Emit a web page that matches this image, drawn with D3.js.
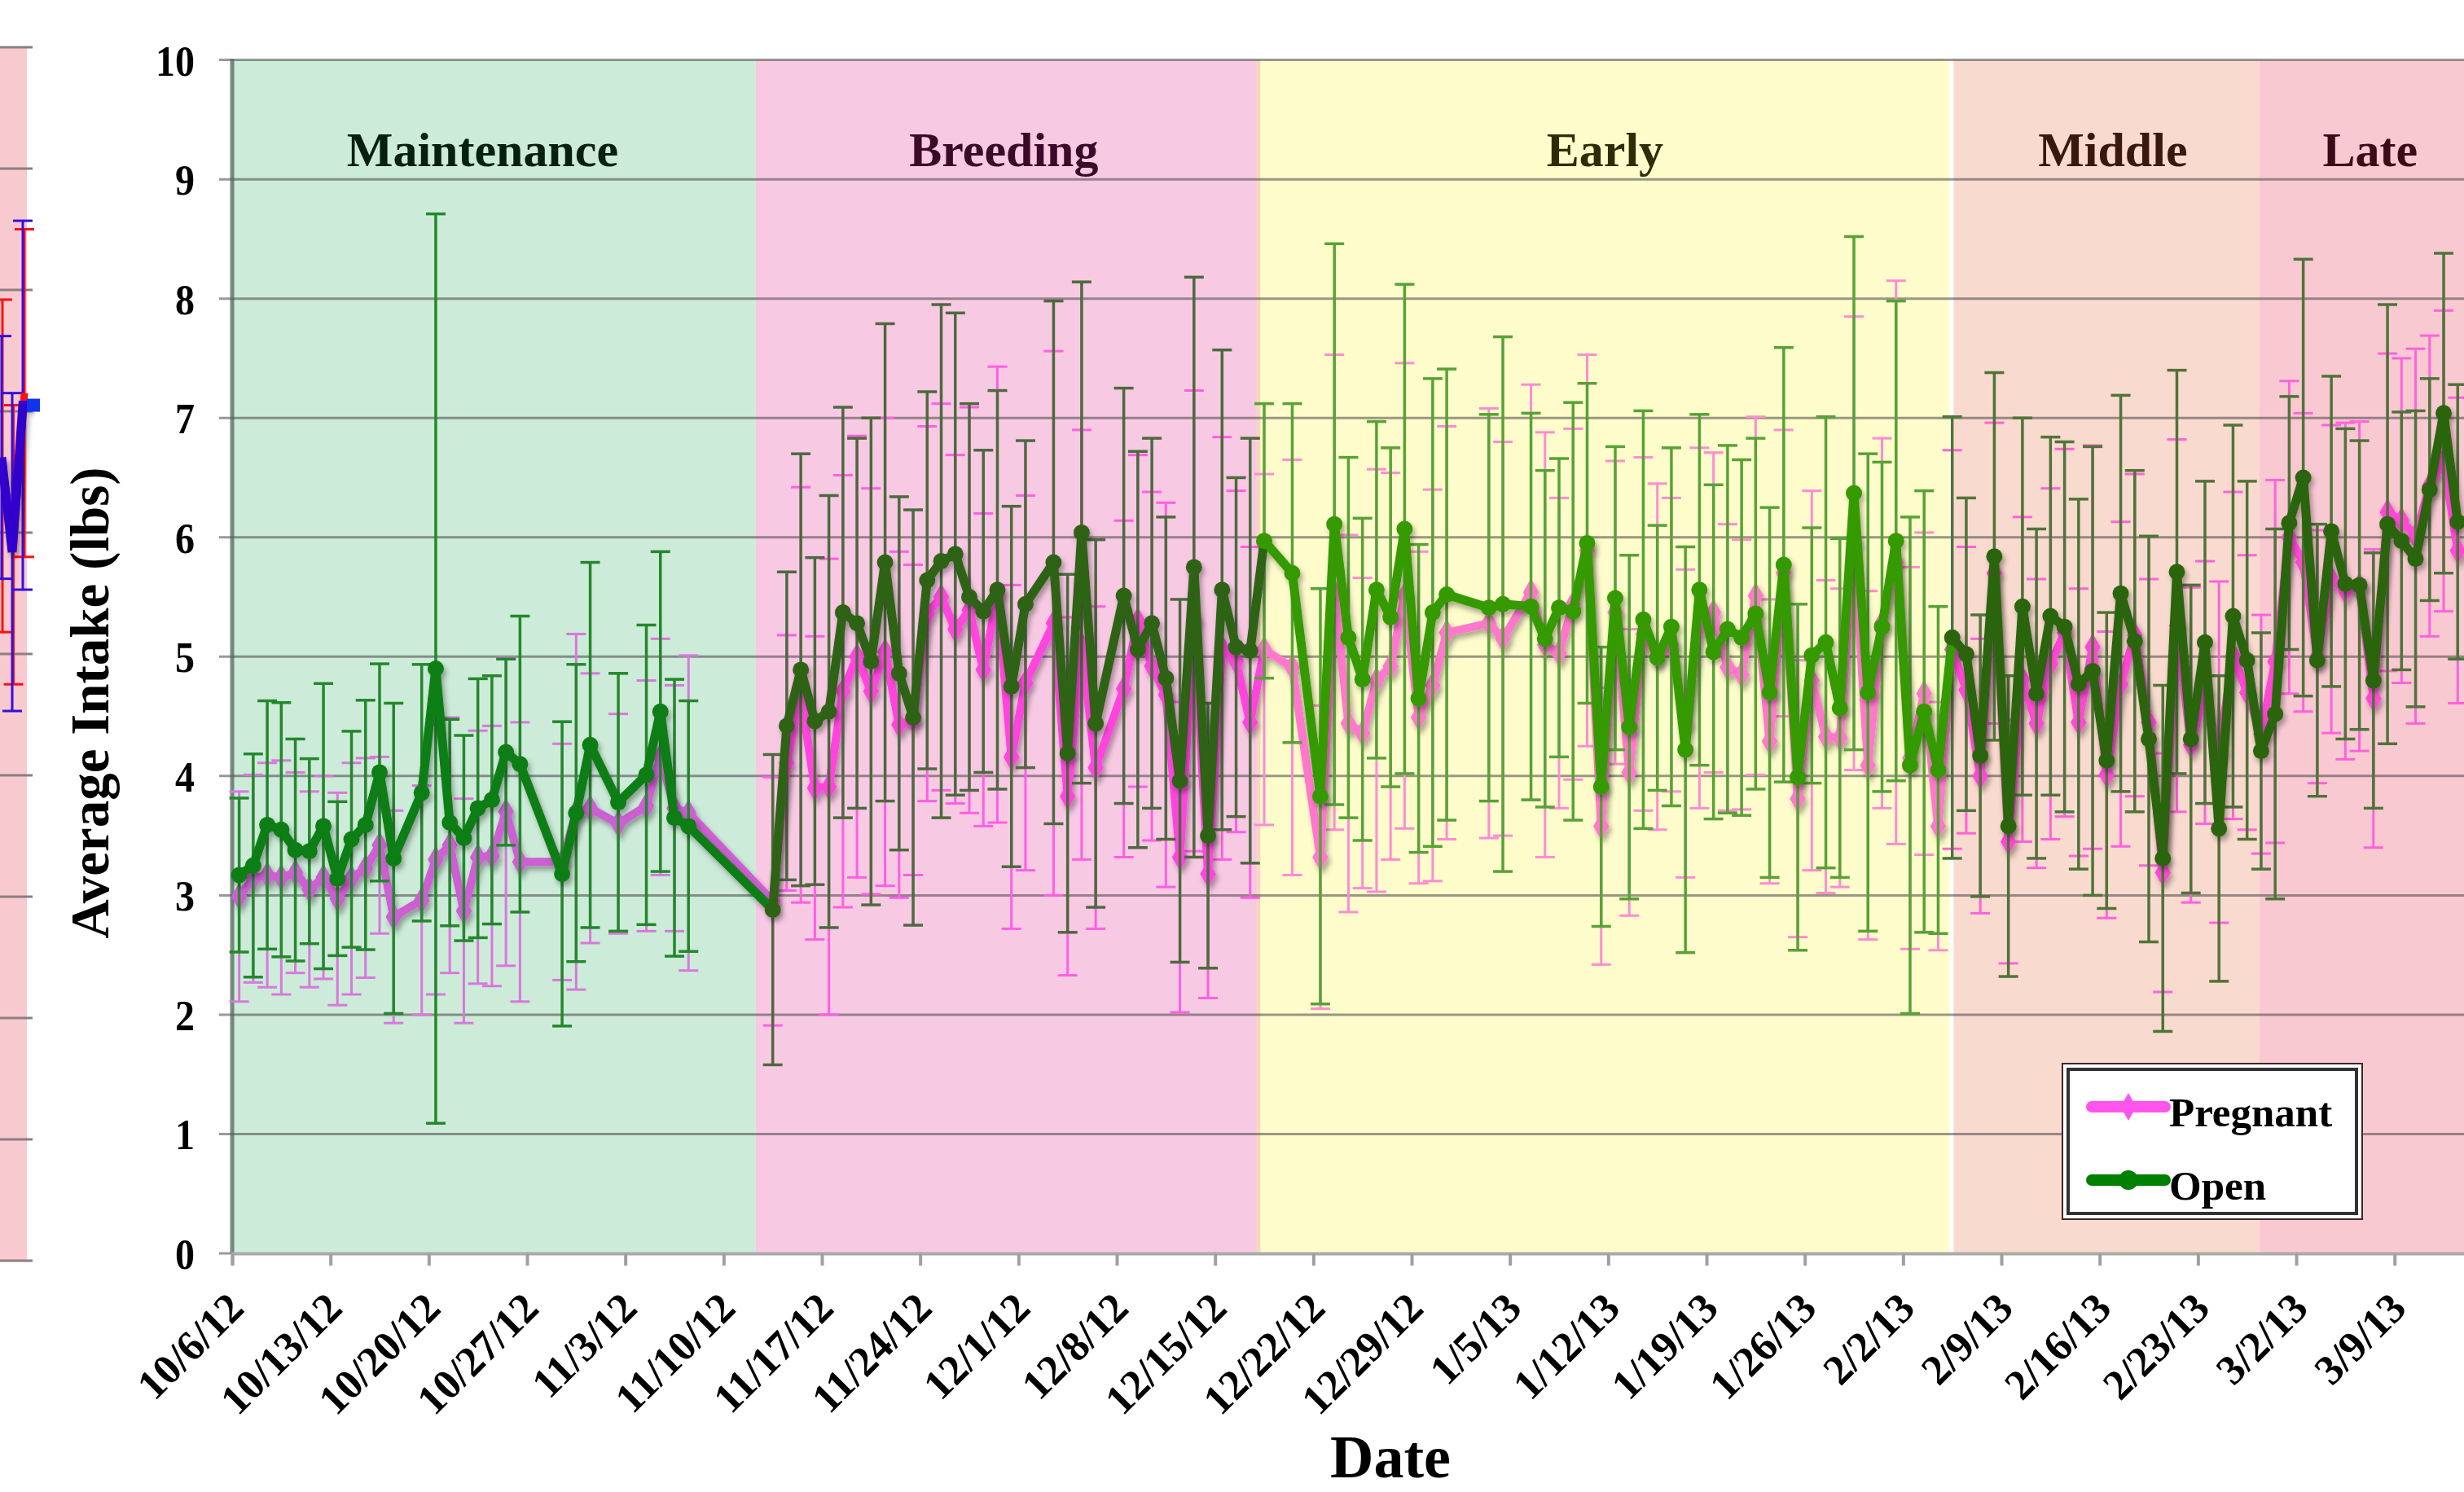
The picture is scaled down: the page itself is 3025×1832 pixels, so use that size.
<!DOCTYPE html>
<html><head><meta charset="utf-8">
<script src="https://cdn.jsdelivr.net/npm/d3@7"></script>
<style>
body{margin:0;background:#fff;}
svg{display:block;}
text{font-family:"Liberation Serif","Times New Roman",serif;font-weight:bold;}
</style>
</head><body>
<svg id="c" width="3025" height="1832"></svg>
<script>
// ---------------- DATA ----------------
const dates = [
 "10/6/12","10/7/12","10/8/12","10/9/12","10/10/12","10/11/12","10/12/12","10/13/12","10/14/12","10/15/12","10/16/12","10/17/12","10/19/12","10/20/12","10/21/12","10/22/12","10/23/12","10/24/12","10/25/12","10/26/12","10/29/12","10/30/12","10/31/12","11/2/12","11/4/12","11/5/12","11/6/12","11/7/12",
 "11/13/12","11/14/12","11/15/12","11/16/12","11/17/12","11/18/12","11/19/12","11/20/12","11/21/12","11/22/12","11/23/12","11/24/12","11/25/12","11/26/12","11/27/12","11/28/12","11/29/12","11/30/12","12/1/12","12/3/12","12/4/12","12/5/12","12/6/12","12/8/12","12/9/12","12/10/12","12/11/12","12/12/12","12/13/12","12/14/12","12/15/12","12/16/12","12/17/12",
 "12/18/12","12/20/12","12/22/12","12/23/12","12/24/12","12/25/12","12/26/12","12/27/12","12/28/12","12/29/12","12/30/12","12/31/12","1/3/13","1/4/13","1/6/13","1/7/13","1/8/13","1/9/13","1/10/13","1/11/13","1/12/13","1/13/13","1/14/13","1/15/13","1/16/13","1/17/13","1/18/13","1/19/13","1/20/13","1/21/13","1/22/13","1/23/13","1/24/13","1/25/13","1/26/13","1/27/13","1/28/13","1/29/13","1/30/13","1/31/13","2/1/13","2/2/13","2/3/13","2/4/13",
 "2/5/13","2/6/13","2/7/13","2/8/13","2/9/13","2/10/13","2/11/13","2/12/13","2/13/13","2/14/13","2/15/13","2/16/13","2/17/13","2/18/13","2/19/13","2/20/13","2/21/13","2/22/13","2/23/13","2/24/13","2/25/13","2/26/13","2/27/13",
 "2/28/13","3/1/13","3/2/13","3/3/13","3/4/13","3/5/13","3/6/13","3/7/13","3/8/13","3/9/13","3/10/13","3/11/13","3/12/13","3/13/13"
];
const openMean = [
 3.17,3.25,3.59,3.55,3.38,3.37,3.58,3.14,3.47,3.59,4.03,3.31,3.86,4.90,3.61,3.48,3.73,3.80,4.20,4.10,3.18,3.69,4.26,3.78,4.01,4.54,3.65,3.58,
 2.88,4.42,4.89,4.46,4.54,5.37,5.28,4.96,5.79,4.86,4.49,5.64,5.80,5.86,5.50,5.38,5.56,4.75,5.44,5.79,4.19,6.04,4.44,5.51,5.06,5.28,4.82,3.96,5.75,3.50,5.56,5.08,5.05,
 5.97,5.70,3.83,6.11,5.16,4.81,5.56,5.33,6.07,4.65,5.37,5.52,5.41,5.44,5.42,5.15,5.41,5.38,5.95,3.91,5.49,4.41,5.31,4.99,5.25,4.22,5.56,5.04,5.23,5.16,5.36,4.70,5.77,3.99,5.01,5.12,4.57,6.37,4.70,5.25,5.97,4.09,4.54,4.05,
 5.16,5.02,4.17,5.84,3.58,5.42,4.69,5.34,5.25,4.77,4.88,4.13,5.53,5.13,4.31,3.31,5.71,4.31,5.12,3.56,5.34,4.97,4.21,
 4.52,6.12,6.50,4.97,6.05,5.61,5.60,4.80,6.11,5.97,5.82,6.40,7.04,6.13
];
const openSD = [
 .645,.935,1.04,1.065,.93,.775,1.195,.645,.905,1.045,.91,1.30,1.075,3.81,.865,.86,1.085,1.04,.78,1.24,1.275,1.245,1.53,1.08,1.255,1.34,1.16,1.05,
 1.30,1.29,1.81,1.37,1.81,1.72,1.55,2.04,2.0,1.48,1.74,1.58,2.15,2.02,1.62,1.35,1.67,1.51,1.37,2.19,1.50,2.10,1.54,1.74,1.66,1.55,1.35,1.52,2.43,1.11,2.01,1.42,1.78,
 1.15,1.42,1.74,2.35,1.51,1.35,1.41,1.42,2.05,1.29,1.96,1.89,1.62,2.24,1.62,1.41,1.25,1.75,1.34,1.17,1.27,1.44,1.75,1.11,1.50,1.70,1.47,1.40,1.54,1.49,1.47,1.55,1.82,1.45,1.07,1.89,1.42,2.15,2.0,1.38,2.01,2.08,1.85,1.37,
 1.85,1.31,1.18,1.54,1.26,1.58,1.38,1.50,1.55,1.55,1.88,1.24,1.66,1.43,1.70,1.45,1.69,1.29,1.35,1.28,1.60,1.50,0.99,
 1.55,1.06,1.83,1.14,1.30,1.30,1.21,1.07,1.84,1.08,1.24,0.93,1.34,1.15
];
const pregnantMean = [
 2.99,3.14,3.17,3.15,3.19,3.05,3.15,2.97,3.14,3.23,3.42,2.82,2.96,3.30,3.42,2.87,3.32,3.33,3.70,3.28,3.28,3.70,3.73,3.60,3.75,4.16,3.73,3.69,
 2.95,4.11,4.68,3.90,3.91,4.71,5.00,4.71,5.04,4.43,4.47,5.36,5.50,5.23,5.39,4.89,5.52,4.16,4.78,5.28,3.83,5.10,4.07,4.73,5.30,4.92,4.68,3.32,5.30,3.18,5.07,4.96,4.45,
 5.06,4.91,3.32,5.54,4.44,4.36,4.80,4.92,5.51,4.49,4.76,5.20,5.28,5.15,5.54,5.10,5.03,5.44,5.89,3.58,5.37,4.03,5.19,5.00,5.10,4.44,5.24,5.37,4.91,4.85,5.51,4.29,5.70,3.81,4.80,4.33,4.32,5.95,4.09,5.28,5.79,4.15,4.69,3.58,
 5.06,4.72,4.00,5.70,3.45,4.81,4.44,4.94,5.20,4.45,5.08,4.01,4.77,5.18,4.45,3.19,5.26,4.26,4.70,4.20,5.01,4.70,4.35,
 4.96,6.00,5.79,5.00,5.65,5.55,5.59,4.65,6.21,6.14,6.01,6.43,6.64,5.89
];
const pregnantSD = [
 .88,.87,.94,.98,.84,.82,.85,.89,.97,.92,.74,.89,.96,1.13,1.07,.94,1.06,1.09,1.29,1.17,.99,1.49,1.13,.92,1.05,.99,1.03,1.32,
 1.04,1.07,1.74,1.27,1.91,1.81,1.85,1.70,1.96,1.45,1.30,1.57,1.62,1.46,1.70,1.31,1.91,1.44,1.57,2.28,1.50,1.80,1.35,1.41,1.39,1.46,1.61,1.30,1.93,1.04,1.77,1.43,1.47,
 1.47,1.74,1.27,1.99,1.58,1.30,1.77,1.62,1.95,1.39,1.64,1.73,1.80,1.65,1.74,1.78,1.30,1.47,1.64,1.16,1.27,1.20,1.48,1.45,1.23,1.29,1.51,1.34,1.20,1.13,1.50,1.19,1.20,1.16,1.59,1.31,1.25,1.90,1.46,1.55,2.36,1.60,1.35,1.04,
 1.67,1.20,1.15,1.26,1.02,1.36,1.21,1.47,1.54,1.12,1.69,1.20,1.36,1.35,1.20,1.00,1.56,1.32,1.10,1.43,1.37,1.15,1.00,
 1.52,1.31,1.25,1.06,1.29,1.41,1.38,1.25,1.33,1.36,1.57,1.26,1.26,1.28
];
const phaseNames = ["Maintenance","Breeding","Early","Middle","Late"];
const phaseStarts = ["2012-10-06T00:00Z","2012-11-12T07:00Z","2012-12-18T02:00Z","2013-02-05T11:00Z","2013-02-27T09:00Z"];
const axisEnd = "2013-03-15T04:00Z";
const tickLabels = ["10/6/12","10/13/12","10/20/12","10/27/12","11/3/12","11/10/12","11/17/12","11/24/12","12/1/12","12/8/12","12/15/12","12/22/12","12/29/12","1/5/13","1/12/13","1/19/13","1/26/13","2/2/13","2/9/13","2/16/13","2/23/13","3/2/13","3/9/13"];
const yTicks = [0,1,2,3,4,5,6,7,8,9,10];
const seriesNames = ["Pregnant","Open"];
// partial neighbouring chart at the left edge
const leftBlue = [6.62, 5.84, 7.05, 7.05];
const leftBlueSD = [1.0, 1.31, 1.52, 0];
const leftRed = [6.55, 5.9, 7.15];
const leftRedSD = [1.37, 1.15, 1.35];

// ---------------- STYLE ----------------
const phaseBg = ["#CDEBD9","#F8C9E3","#FEFCCB","#F9DACE","#F9C9D2"];
const phaseTxt = ["#06200E","#3A0A28","#2E2C06","#38190C","#3A0C18"];
const phaseLabelShift = [-14, -4, 0, 9, 0];
const openLine = ["#0A7E12","#2E6418","#349A04","#2C650F","#2C650F"];
const openErr  = ["#23882C","#4C6A3E","#58A236","#4F7438","#4F7438"];
const pregLine = ["#CC5FD2","#FF45DD","#FF78CC","#FF48D6","#FF48D6"];
const pregErr  = ["#D878DC","#FF5FE2","#FF8CD2","#FF62DA","#FF62DA"];

// ---------------- CHART ----------------
const svg = d3.select("#c");
const parse = d3.utcParse("%m/%d/%y");
const plotTop = 73.6, plotBottom = 1539, plotLeft = 285, plotRight = 3046;
const x = d3.scaleUtc().domain([parse("10/6/12"), new Date(axisEnd)]).range([plotLeft, plotRight]);
const y = d3.scaleLinear().domain([0, 10]).range([plotBottom, plotTop]);
const ticksD = tickLabels.map(parse);
const pStart = phaseStarts.map(s => new Date(s));
const pEnd = pStart.slice(1).concat([new Date(axisEnd)]);

const defs = svg.append("defs");
const f = defs.append("filter").attr("id","sh").attr("x","-5%").attr("y","-5%").attr("width","110%").attr("height","110%");
f.append("feDropShadow").attr("dx",3).attr("dy",5).attr("stdDeviation",3).attr("flood-color","#000").attr("flood-opacity",0.33);

// left partial chart
const yl = d3.scaleLinear().domain([0,10]).range([1548, 58]);
svg.append("rect").attr("x",0).attr("y",yl(10)).attr("width",33).attr("height",yl(0)-yl(10)).attr("fill","#F9C9D0");
svg.append("g").selectAll("line").data(yTicks).join("line")
  .attr("x1",0).attr("x2",40).attr("y1",d=>yl(d)).attr("y2",d=>yl(d))
  .attr("stroke","#8a8080").attr("stroke-width",3);
const xlB = d3.scaleLinear().domain([0,3]).range([2,41]);
const xlR = d3.scaleLinear().domain([0,2]).range([3,30]);
const gl = svg.append("g");
leftRed.forEach((v,i)=>{
  const cx = xlR(i);
  gl.append("line").attr("x1",cx).attr("x2",cx).attr("y1",yl(v+leftRedSD[i])).attr("y2",yl(v-leftRedSD[i])).attr("stroke","#FF1010").attr("stroke-width",3);
  [v+leftRedSD[i], v-leftRedSD[i]].forEach(e=>gl.append("line").attr("x1",cx-12).attr("x2",cx+12).attr("y1",yl(e)).attr("y2",yl(e)).attr("stroke","#FF1010").attr("stroke-width",3));
});
leftBlue.forEach((v,i)=>{
  if(!leftBlueSD[i]) return;
  const cx = xlB(i);
  gl.append("line").attr("x1",cx).attr("x2",cx).attr("y1",yl(v+leftBlueSD[i])).attr("y2",yl(v-leftBlueSD[i])).attr("stroke","#3311DD").attr("stroke-width",3);
  [v+leftBlueSD[i], v-leftBlueSD[i]].forEach(e=>gl.append("line").attr("x1",cx-12).attr("x2",cx+12).attr("y1",yl(e)).attr("y2",yl(e)).attr("stroke","#3311DD").attr("stroke-width",3));
});
gl.append("path").datum(leftRed).attr("fill","none").attr("stroke","#FF1010").attr("stroke-width",9)
  .attr("d", d3.line().x((d,i)=>xlR(i)).y(d=>yl(d)));
gl.append("path").datum(leftBlue).attr("fill","none").attr("stroke","#3300CC").attr("stroke-width",11).attr("filter","url(#sh)")
  .attr("d", d3.line().x((d,i)=>xlB(i)).y(d=>yl(d)));
gl.append("rect").attr("x",xlB(3)-8).attr("y",yl(leftBlue[3])-8).attr("width",16).attr("height",16).attr("fill","#1133EE");

// phase backgrounds
svg.append("g").selectAll("rect").data(phaseNames).join("rect")
  .attr("x",(d,i)=>x(pStart[i])).attr("y",plotTop)
  .attr("width",(d,i)=>x(pEnd[i])-x(pStart[i])).attr("height",plotBottom-plotTop)
  .attr("fill",(d,i)=>phaseBg[i]);
// boundary accents
svg.append("line").attr("x1",x(pStart[2])).attr("x2",x(pStart[2])).attr("y1",plotTop).attr("y2",plotBottom).attr("stroke","#F9D6C2").attr("stroke-width",5);
svg.append("line").attr("x1",x(pStart[3])).attr("x2",x(pStart[3])).attr("y1",plotTop).attr("y2",plotBottom).attr("stroke","#FFFFFF").attr("stroke-width",5);

// gridlines + y ticks
svg.append("g").selectAll("line").data(yTicks.filter(d=>d>0)).join("line")
  .attr("x1",plotLeft-16).attr("x2",3025).attr("y1",d=>y(d)).attr("y2",d=>y(d))
  .attr("stroke","rgba(70,70,70,0.55)").attr("stroke-width",3);
svg.append("line").attr("x1",plotLeft-16).attr("x2",plotLeft).attr("y1",y(0)).attr("y2",y(0)).attr("stroke","#9a9a9a").attr("stroke-width",3);
// left border
svg.append("line").attr("x1",plotLeft).attr("x2",plotLeft).attr("y1",plotTop-1).attr("y2",plotBottom)
  .attr("stroke","rgba(80,100,90,0.75)").attr("stroke-width",5);
// x axis
const xa = d3.axisBottom(x).tickValues(ticksD).tickSize(15).tickFormat("");
const gx = svg.append("g").attr("transform",`translate(0,${plotBottom})`).call(xa);
gx.select(".domain").attr("stroke","#aaaaaa").attr("stroke-width",4);
gx.selectAll(".tick line").attr("stroke","#a0a0a0").attr("stroke-width",4);
svg.append("g").selectAll("text").data(tickLabels).join("text")
  .attr("transform",(d,i)=>`translate(${x(ticksD[i])+17},${plotBottom+70}) rotate(-45)`)
  .attr("text-anchor","end").attr("font-size",52).attr("fill","#000").text(d=>d);

// y tick labels
svg.append("g").selectAll("text").data(yTicks).join("text")
  .attr("transform",d=>`translate(239,${y(d)+19}) scale(1,1.12)`).attr("text-anchor","end")
  .attr("font-size",48).attr("fill","#000").text(d=>d);
// axis titles
svg.append("text").attr("transform","translate(133,863) rotate(-90)").attr("text-anchor","middle")
  .attr("font-size",67).attr("fill","#000").text("Average Intake (lbs)");
svg.append("text").attr("x",1707).attr("y",1814).attr("text-anchor","middle").attr("font-size",74).attr("fill","#000").text("Date");

// phase labels
svg.append("g").selectAll("text").data(phaseNames).join("text")
  .attr("x",(d,i)=>(x(pStart[i])+x(pEnd[i]))/2 + phaseLabelShift[i]).attr("y",204).attr("text-anchor","middle")
  .attr("font-size",60).attr("fill",(d,i)=>phaseTxt[i]).text(d=>d);

// ---------------- SERIES ----------------
const pts = dates.map((d,i)=>{
  const t = d3.utcHour.offset(parse(d),12);
  let ph = 0; pStart.forEach((s,k)=>{ if (t>=s) ph=k; });
  return {t, ph, open:openMean[i], openSD:openSD[i], preg:pregnantMean[i], pregSD:pregnantSD[i]};
});
function drawErr(key, sdKey, colors, w){
  const g = svg.append("g");
  pts.forEach(p=>{
    const cx = x(p.t), hi = y(p[key]+p[sdKey]), lo = y(p[key]-p[sdKey]);
    g.append("line").attr("x1",cx).attr("x2",cx).attr("y1",hi).attr("y2",lo).attr("stroke",colors[p.ph]).attr("stroke-width",w);
    [hi,lo].forEach(yy=>g.append("line").attr("x1",cx-12).attr("x2",cx+12).attr("y1",yy).attr("y2",yy).attr("stroke",colors[p.ph]).attr("stroke-width",w));
  });
}
function drawLine(key, colors, w){
  const g = svg.append("g").attr("filter","url(#sh)");
  const line = d3.line().x(p=>x(p.t)).y(p=>y(p[key]));
  for (let ph=0; ph<phaseNames.length; ph++){
    const idx = pts.map((p,i)=>p.ph===ph?i:-1).filter(i=>i>=0);
    if (!idx.length) continue;
    const seg = pts.slice(idx[0], Math.min(idx[idx.length-1]+2, pts.length));
    g.append("path").datum(seg).attr("fill","none").attr("stroke",colors[ph]).attr("stroke-width",w)
      .attr("stroke-linejoin","round").attr("d",line);
  }
  return g;
}
drawErr("preg","pregSD",pregErr,3);
const gp = drawLine("preg",pregLine,10);
gp.selectAll("path.m").data(pts).join("path").attr("class","m")
  .attr("transform",p=>`translate(${x(p.t)},${y(p.preg)})`)
  .attr("d",d3.symbol(d3.symbolDiamond,330)).attr("fill",p=>pregLine[p.ph]);
drawErr("open","openSD",openErr,3.5);
const go = drawLine("open",openLine,11);
go.selectAll("circle").data(pts).join("circle")
  .attr("cx",p=>x(p.t)).attr("cy",p=>y(p.open)).attr("r",10).attr("fill",p=>openLine[p.ph]);

// ---------------- LEGEND ----------------
const lg = svg.append("g");
lg.append("rect").attr("x",2532).attr("y",1306).attr("width",368).attr("height",191).attr("fill","#fff").attr("stroke","#3a2a2a").attr("stroke-width",2);
lg.append("rect").attr("x",2539).attr("y",1313).attr("width",354).attr("height",177).attr("fill","none").attr("stroke","#333").attr("stroke-width",4);
const legColors = ["#FF55EE","#008000"];
seriesNames.forEach((n,i)=>{
  const cy = 1359 + i*90;
  lg.append("line").attr("x1",2568).attr("x2",2658).attr("y1",cy).attr("y2",cy).attr("stroke",legColors[i]).attr("stroke-width",14).attr("stroke-linecap","round");
  if (i===0) lg.append("path").attr("transform",`translate(2613,${cy})`).attr("d",d3.symbol(d3.symbolDiamond,330)).attr("fill",legColors[i]);
  else lg.append("circle").attr("cx",2613).attr("cy",cy).attr("r",12).attr("fill",legColors[i]);
  lg.append("text").attr("x",2663).attr("y",cy+24).attr("font-size",51).attr("fill","#000").text(n);
});
</script>
</body></html>
